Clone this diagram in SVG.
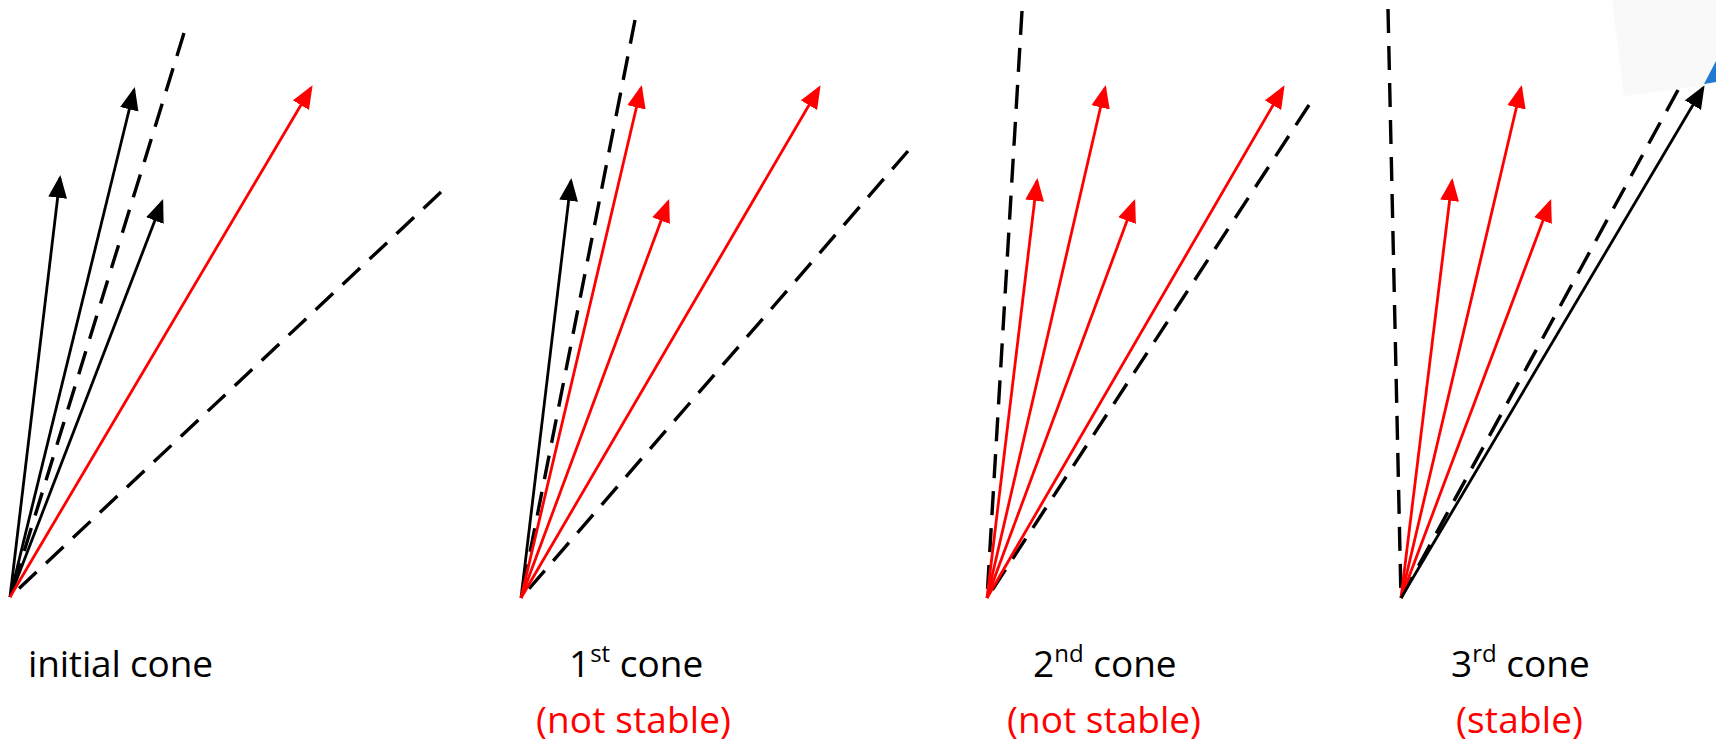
<svg xmlns="http://www.w3.org/2000/svg" width="1716" height="745" viewBox="0 0 1716 745">
<style>
.bg{fill:#ffffff}
.dash{stroke:#000;stroke-width:3.4;stroke-dasharray:24 13;fill:none}
.blk{stroke:#000;stroke-width:2.8;fill:none;marker-end:url(#ab)}
.red{stroke:#ff0000;stroke-width:2.8;fill:none;marker-end:url(#ar)}
.lbl{font-family:"Open Sans","Noto Sans",sans-serif;font-size:37px;fill:#000}
.sub{font-family:"Open Sans","Noto Sans",sans-serif;font-size:37px;fill:#ff0000}
</style>
<defs>
<marker id="ab" markerUnits="userSpaceOnUse" markerWidth="23" markerHeight="19" refX="19" refY="9" orient="auto" viewBox="0 0 22 18">
<path d="M0,0 L22,9 L0,18 Z" fill="#000"/>
</marker>
<marker id="ar" markerUnits="userSpaceOnUse" markerWidth="23" markerHeight="19" refX="19" refY="9" orient="auto" viewBox="0 0 22 18">
<path d="M0,0 L22,9 L0,18 Z" fill="#ff0000"/>
</marker>
</defs>
<rect class="bg" x="0" y="0" width="1716" height="745"/>

<g id="connectors">
<g id="p1-lines">
<line class="dash" x1="184" y1="33" x2="10" y2="597"/>
<line class="dash" x1="441" y1="192" x2="10" y2="597"/>
<line class="blk" x1="10" y1="597" x2="60" y2="178"/>
<line class="blk" x1="10" y1="597" x2="134" y2="90"/>
<line class="blk" x1="10" y1="597" x2="162" y2="202"/>
<line class="red" x1="10" y1="597" x2="311" y2="88"/>
</g>
<g id="p2-lines">
<line class="dash" x1="635" y1="20" x2="521" y2="598"/>
<line class="dash" x1="908" y1="151" x2="521" y2="598"/>
<line class="blk" x1="521" y1="598" x2="571" y2="181"/>
<line class="red" x1="521" y1="598" x2="641" y2="88"/>
<line class="red" x1="521" y1="598" x2="668" y2="202"/>
<line class="red" x1="521" y1="598" x2="819" y2="88"/>
</g>
<g id="p3-lines">
<line class="dash" x1="1022" y1="11" x2="987" y2="598"/>
<line class="dash" x1="1309" y1="105" x2="987" y2="598"/>
<line class="red" x1="987" y1="598" x2="1037" y2="181"/>
<line class="red" x1="987" y1="598" x2="1105" y2="88"/>
<line class="red" x1="987" y1="598" x2="1134" y2="202"/>
<line class="red" x1="987" y1="598" x2="1283" y2="88"/>
</g>
<g id="p4-lines">
<line class="dash" x1="1388" y1="9" x2="1401" y2="598"/>
<line class="dash" x1="1678" y1="90" x2="1401" y2="598"/>
<line class="red" x1="1401" y1="598" x2="1452" y2="181"/>
<line class="red" x1="1401" y1="598" x2="1521" y2="88"/>
<line class="red" x1="1401" y1="598" x2="1550" y2="202"/>
<line class="blk" x1="1401" y1="598" x2="1703" y2="88"/>
</g>
</g>

<g id="corner-fragment">
<polygon points="1612,0 1716,0 1716,84 1624,96" fill="#f9f9fa"/>
<polygon points="1704,84 1716,61 1716,82" fill="#1f7ad0"/>
</g>

<g id="label-initial">
<text class="lbl" x="28" y="677" textLength="185">initial cone</text>
</g>
<g id="label-1st">
<text class="lbl" x="569" y="677">1<tspan font-size="24" dy="-15">st</tspan><tspan dy="15"> cone</tspan></text>
<text class="sub" x="536" y="733" textLength="195">(not stable)</text>
</g>
<g id="label-2nd">
<text class="lbl" x="1033" y="677">2<tspan font-size="24" dy="-15">nd</tspan><tspan dy="15"> cone</tspan></text>
<text class="sub" x="1007" y="733" textLength="194">(not stable)</text>
</g>
<g id="label-3rd">
<text class="lbl" x="1451" y="677">3<tspan font-size="24" dy="-15">rd</tspan><tspan dy="15"> cone</tspan></text>
<text class="sub" x="1456" y="733" textLength="127">(stable)</text>
</g>
</svg>
